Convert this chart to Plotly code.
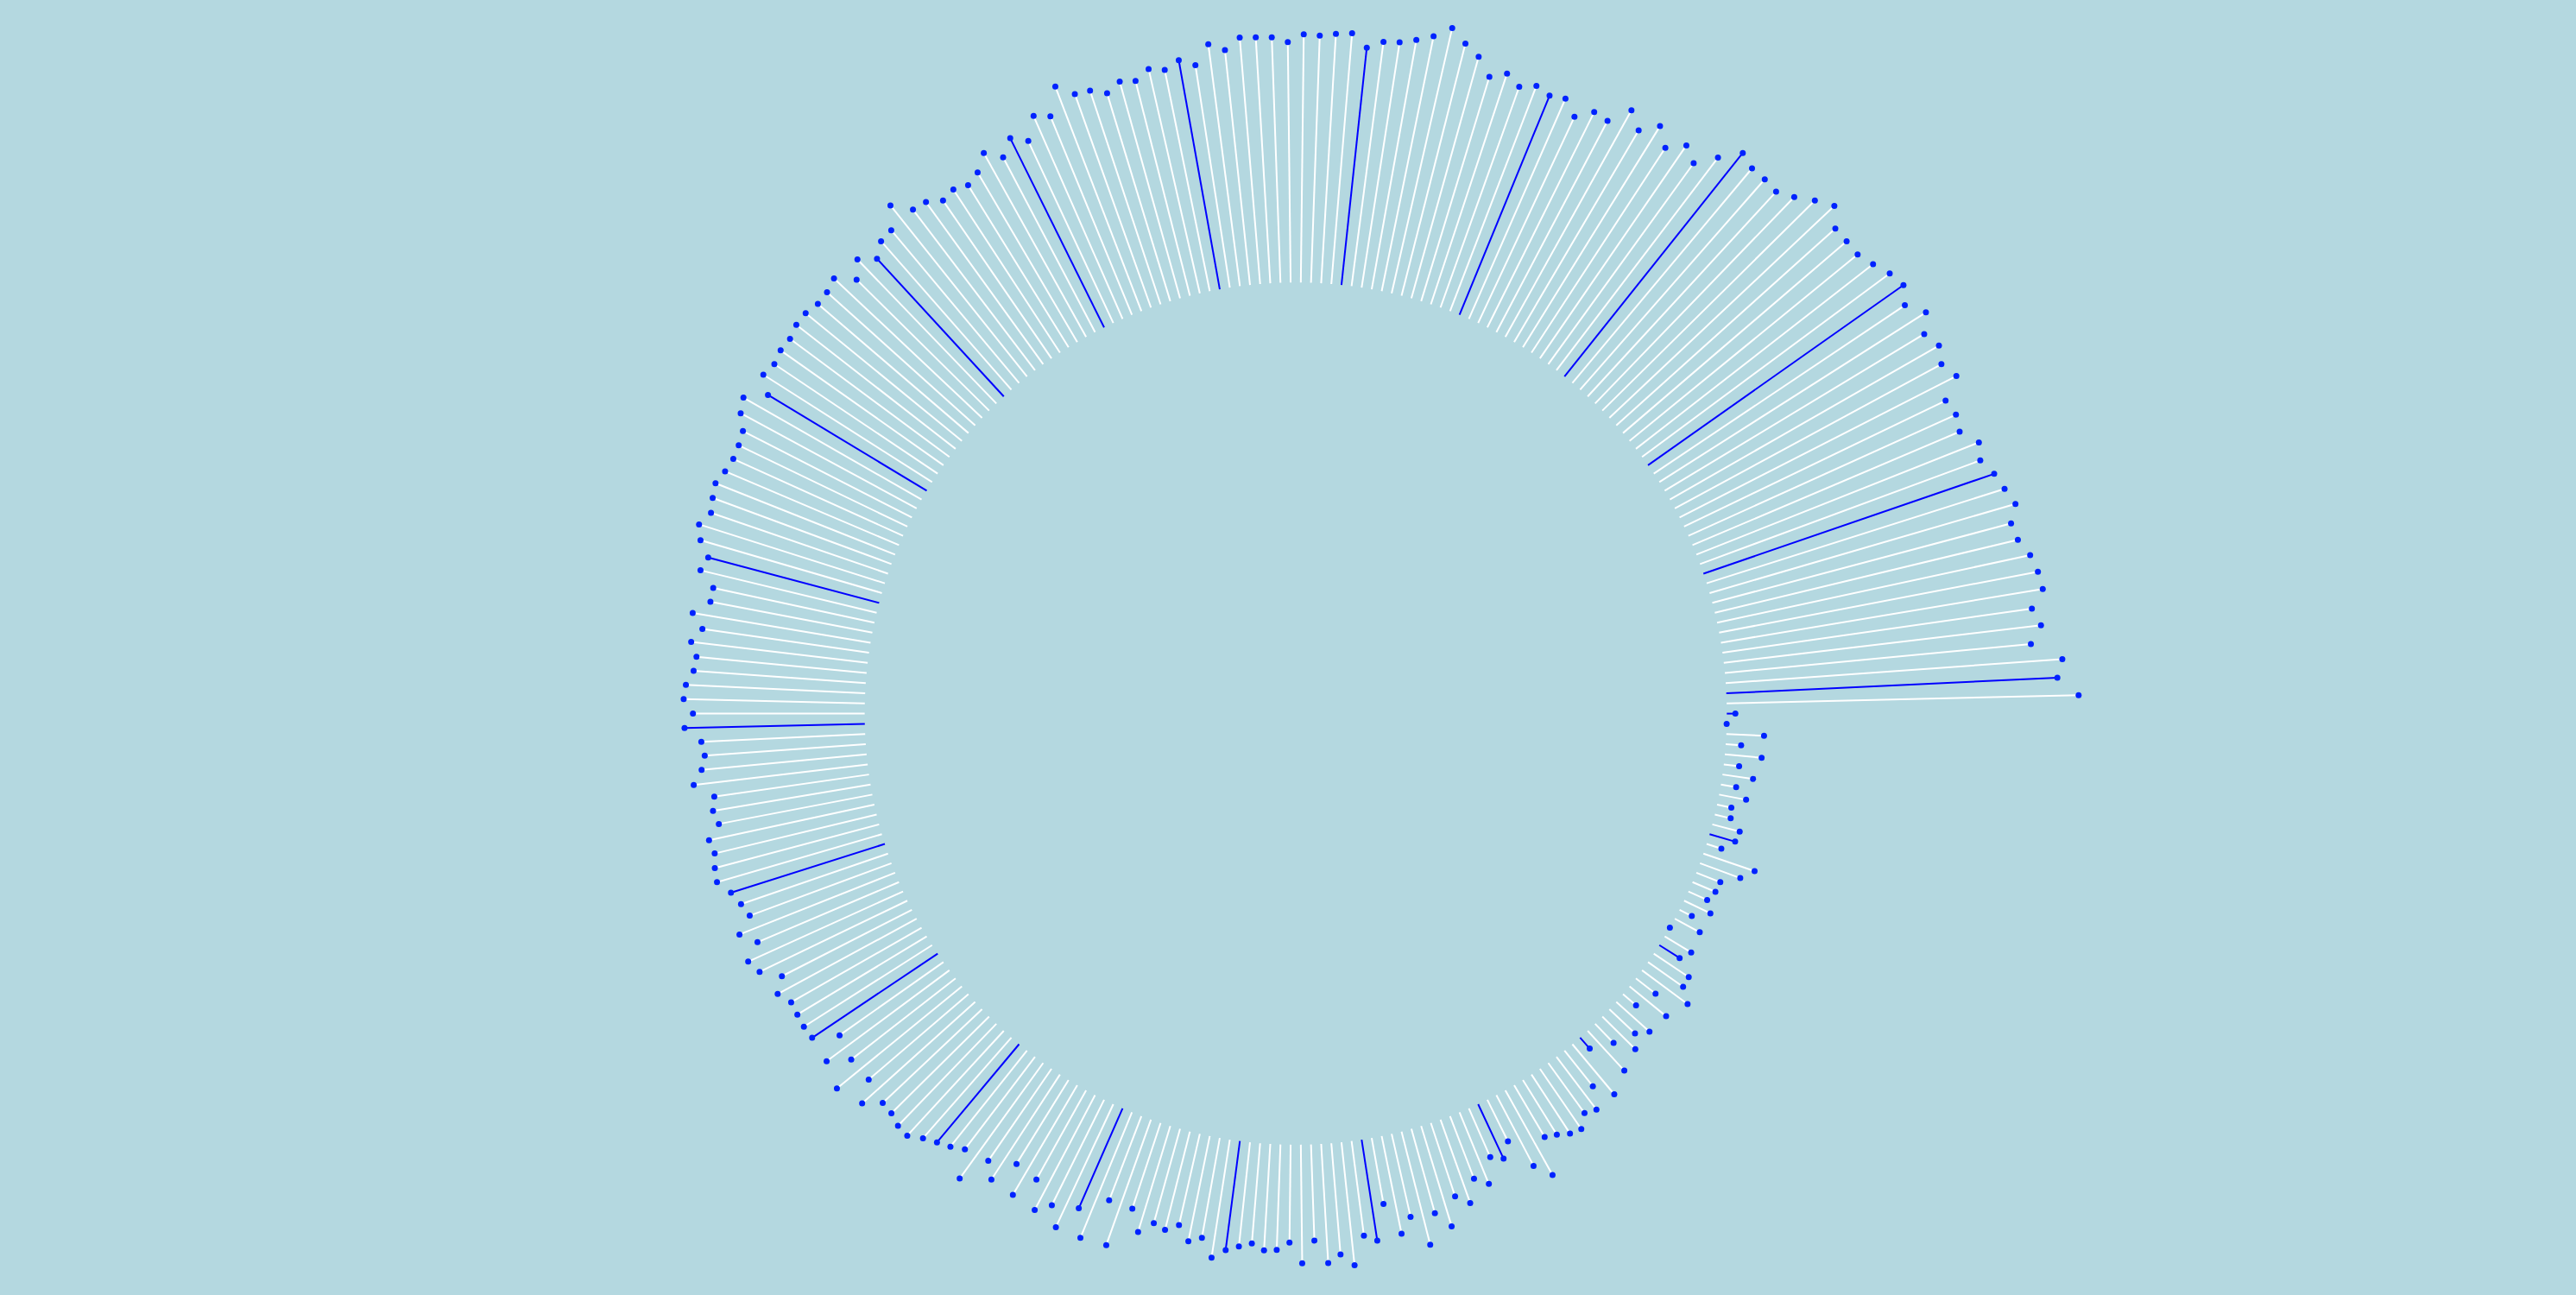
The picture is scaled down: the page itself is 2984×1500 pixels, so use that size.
import numpy as np
import plotly.graph_objects as go

# spoke lengths, in order, starting at 3 o'clock and going clockwise
values = [
    10, 0, 44, 18, 43, 18, 36, 18, 32, 17, 19, 33, 31, 18, 63, 50, 30, 29, 24, 34,
    16, 33, 0, 36, 28, 49, 50, 66, 29, 55, 20, 52, 41, 54, 31, 63, 17, 76, 53, 77,
    72, 85, 82, 75, 70, 113, 93, 54, 70, 62, 90, 78, 103, 90, 122, 102, 136, 99, 116, 78,
    119, 111, 144, 130, 139, 112, 138, 114, 123, 124, 117, 122, 128, 139, 118, 125, 109, 118, 114, 129,
    105, 155, 105, 158, 127, 158, 137, 151, 119, 148, 115, 146, 130, 166, 135, 143, 149, 156, 166, 165,
    160, 159, 177, 153, 188, 154, 178, 148, 176, 177, 176, 175, 184, 170, 191, 198, 179, 195, 176, 181,
    188, 200, 198, 194, 197, 182, 186, 182, 204, 193, 188, 191, 210, 200, 211, 209, 201, 199, 207, 196,
    210, 192, 192, 211, 206, 220, 227, 218, 222, 225, 220, 217, 218, 221, 233, 239, 216, 233, 229, 232,
    231, 235, 235, 231, 232, 237, 217, 233, 218, 230, 232, 255, 235, 233, 223, 227, 222, 229, 245, 230,
    246, 234, 258, 250, 280, 264, 262, 253, 262, 258, 268, 263, 271, 262, 284, 275, 288, 287, 286, 280,
    289, 288, 291, 293, 278, 287, 289, 295, 303, 317, 303, 292, 273, 283, 273, 281, 276, 280, 265, 280,
    278, 302, 286, 303, 285, 301, 289, 311, 333, 326, 326, 324, 334, 348, 360, 343, 343, 343, 350, 359,
    364, 352, 368, 353, 361, 353, 362, 338, 342, 338, 354, 348, 358, 364, 371, 360, 363, 373, 378, 380,
    364, 372, 358, 393, 386, 410,
]

highlight_every = 12
hole = 502

n = len(values)
theta = np.deg2rad(np.arange(n) * 360 / n)
r_out = hole + np.array(values, dtype=float)

xs = hole * np.cos(theta)
ys = -hole * np.sin(theta)
xe = r_out * np.cos(theta)
ye = -r_out * np.sin(theta)


def segments(idx):
    lx, ly = [], []
    for i in idx:
        lx += [xs[i], xe[i], None]
        ly += [ys[i], ye[i], None]
    return lx, ly


blue_idx = [i for i in range(n) if i % highlight_every == 0]
white_idx = [i for i in range(n) if i % highlight_every != 0]

wx, wy = segments(white_idx)
bx, by = segments(blue_idx)

fig = go.Figure()
fig.add_trace(go.Scatter(x=wx, y=wy, mode="lines",
                         line=dict(color="white", width=2), hoverinfo="skip"))
fig.add_trace(go.Scatter(x=bx, y=by, mode="lines",
                         line=dict(color="blue", width=2), hoverinfo="skip"))
fig.add_trace(go.Scatter(x=xe, y=ye, mode="markers",
                         marker=dict(color="#0022ff", size=7)))

bg = "#b4d8e0"
fig.update_layout(
    showlegend=False,
    paper_bgcolor=bg,
    plot_bgcolor=bg,
    margin=dict(l=0, r=0, t=0, b=0),
    xaxis=dict(visible=False, range=[-1501, 1483]),
    yaxis=dict(visible=False, range=[-673, 827], scaleanchor="x", scaleratio=1),
)

# drop the page's default body margin so the chart fills the window
fix_page = (
    "document.body.style.margin='0';"
    "document.documentElement.style.background='" + bg + "';"
    "Plotly.Plots.resize(document.getElementById('{plot_id}'));"
)
fig.write_html("out.html", post_script=fix_page, config={"displayModeBar": False})
